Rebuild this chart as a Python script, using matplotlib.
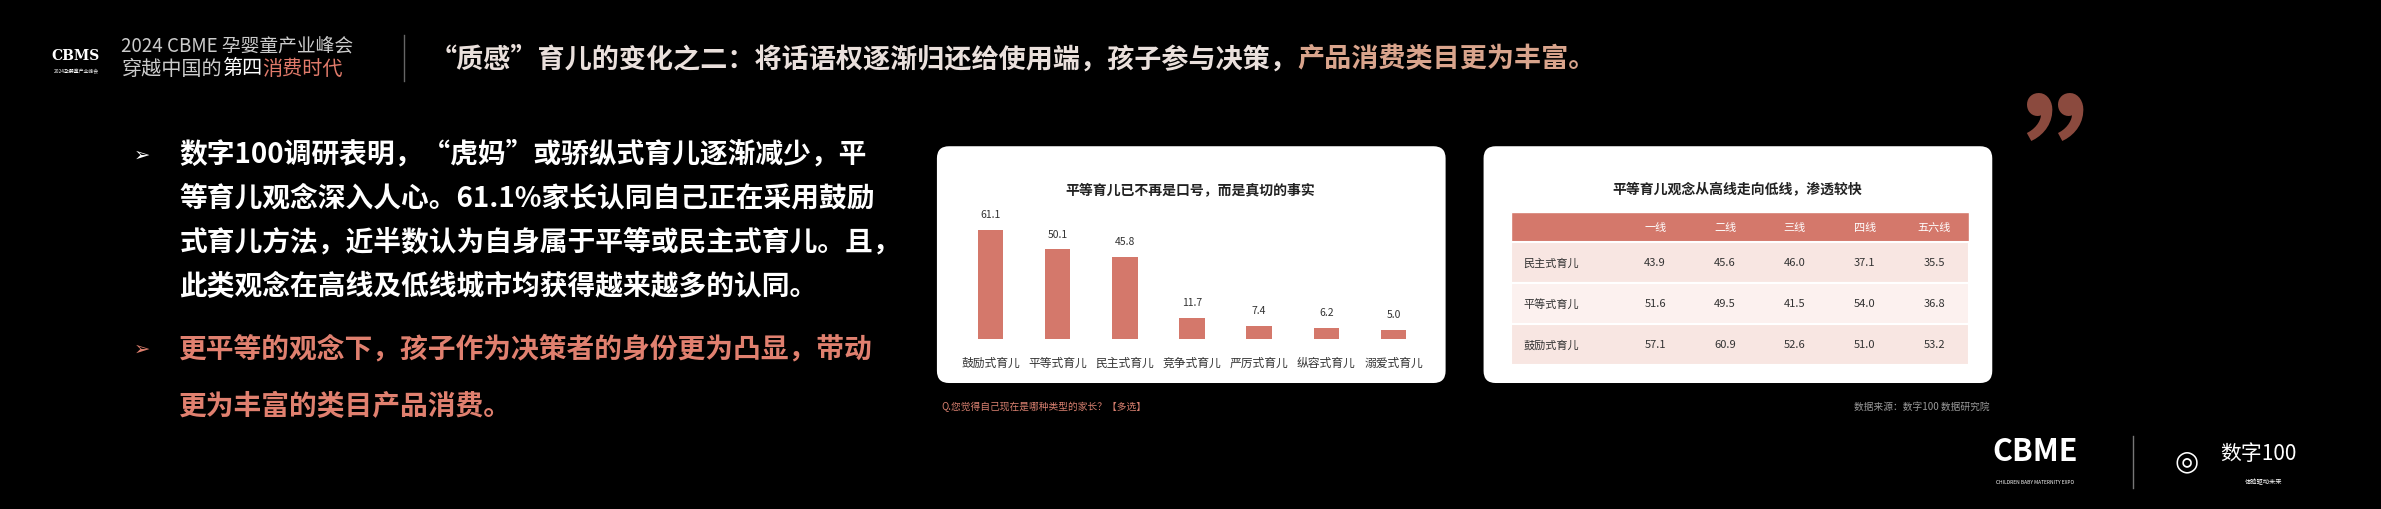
import matplotlib
matplotlib.use('Agg')
import matplotlib.pyplot as plt
from matplotlib.patches import FancyBboxPatch, Rectangle

plt.rcParams['font.family'] = ['Noto Sans CJK SC', 'DejaVu Sans']

# ── Data ──────────────────────────────────────────────
bar_cats = ['鼓励式育儿', '平等式育儿', '民主式育儿', '竞争式育儿', '严厉式育儿', '纵容式育儿', '溺爱式育儿']
bar_vals = [61.1, 50.1, 45.8, 11.7, 7.4, 6.2, 5.0]

tbl_cols = ['一线', '二线', '三线', '四线', '五六线']
tbl_rows = ['民主式育儿', '平等式育儿', '鼓励式育儿']
tbl_vals = [[43.9, 45.6, 46.0, 37.1, 35.5],
            [51.6, 49.5, 41.5, 54.0, 36.8],
            [57.1, 60.9, 52.6, 51.0, 53.2]]

bullets_white = ['数字100调研表明，“虎妈”或骄纵式育儿逐渐减少，平',
                 '等育儿观念深入人心。61.1%家长认同自己正在采用鼓励',
                 '式育儿方法，近半数认为自身属于平等或民主式育儿。且，',
                 '此类观念在高线及低线城市均获得越来越多的认同。']
bullets_red = ['更平等的观念下，孩子作为决策者的身份更为凸显，带动',
               '更为丰富的类目产品消费。']

BAR = '#d4786b'
RED = '#e0806f'
W, H = 1568, 336  # layout units


def fr(x, y):
    return x / W, 1 - y / H


fig = plt.figure(figsize=(23.81, 5.10), dpi=100, facecolor='black')
bg = fig.add_axes([0, 0, 1, 1])
bg.set_xlim(0, W)
bg.set_ylim(H, 0)
bg.axis('off')
bg.set_facecolor('black')
renderer = fig.canvas.get_renderer()


def chain(x, y, parts, **kw):
    # place text pieces one after another on a line
    for txt, col in parts:
        t = bg.text(x, y, txt, color=col, va='center', **kw)
        ext = t.get_window_extent(renderer)
        x += ext.width * W / fig.bbox.width


# ── Header ───────────────────────────────────────────
bg.text(50, 37, 'CBMS', color='white', fontsize=10, fontweight='bold', ha='center', va='center',
        family='DejaVu Serif')
bg.text(50, 47, '2024孕婴童产业峰会', color='white', fontsize=3.5, ha='center', va='center')
chain(80, 30, [('2024 CBME 孕婴童产业峰会', '#cccccc')], fontsize=13.5, fontweight='light')
chain(80, 46, [('穿越中国的', '#cccccc'), ('第四', 'white'), ('消费时代', '#e07a6a')],
      fontsize=14.5, fontweight='light')
bg.plot([266, 266], [24, 54], color='#666666', lw=1)
chain(283, 39, [('“质感”育儿的变化之二：将话语权逐渐归还给使用端，孩子参与决策，', '#eae0dc'),
                ('产品消费类目更为丰富。', '#d9a48c')], fontsize=19.5, fontweight='bold')

# ── Bullets ──────────────────────────────────────────
for i, t in enumerate(bullets_white):
    y = 102 + 29 * i
    if i == 0:
        bg.text(88, y, '➢', color='white', fontsize=14, va='center', family='DejaVu Sans')
    bg.text(118, y, t, color='white', fontsize=20, fontweight='bold', va='center')
for i, t in enumerate(bullets_red):
    y = 230 + 38 * i
    if i == 0:
        bg.text(88, y, '➢', color=RED, fontsize=14, va='center', family='DejaVu Sans')
    bg.text(118, y, t, color=RED, fontsize=20, fontweight='bold', va='center')

# ── Cards ────────────────────────────────────────────
for x0 in (617, 977):
    bg.add_patch(FancyBboxPatch((x0, 97), 335, 156, boxstyle='round,pad=0,rounding_size=8',
                                fc='white', ec='none'))

# Bar chart
bg.text(784, 125, '平等育儿已不再是口号，而是真切的事实', fontsize=10, fontweight='bold',
        ha='center', va='center', color='#222222')
x0, y0 = fr(628, 224)
x1, y1 = fr(942, 152)
ax = fig.add_axes([x0, y0, x1 - x0, y1 - y0])
xs = range(len(bar_cats))
ax.bar(xs, bar_vals, width=0.38, color=BAR)
for x, v in zip(xs, bar_vals):
    ax.text(x, v + 6, f'{v:.1f}', ha='center', va='bottom', fontsize=7.5, color='#333333')
ax.set_ylim(0, 61.1)
ax.set_xlim(-0.55, len(bar_cats) - 0.45)
ax.set_xticks(list(xs))
ax.set_xticklabels(bar_cats, fontsize=8.5, color='#333333')
ax.tick_params(length=0, pad=12)
ax.set_yticks([])
for s in ax.spines.values():
    s.set_visible(False)
ax.patch.set_alpha(0)

# Table
bg.text(1144, 125, '平等育儿观念从高线走向低线，渗透较快', fontsize=10, fontweight='bold',
        ha='center', va='center', color='#222222')
tx, ty, cw0, cw, rh = 995, 140, 72, 46, 27
bg.add_patch(Rectangle((tx, ty), cw0 + cw * 5, 20, fc=BAR, ec='white', lw=1))
for j, c in enumerate(tbl_cols):
    bg.text(tx + cw0 + cw * j + cw / 2, ty + 10, c, color='white', fontsize=8, ha='center', va='center')
for i, r in enumerate(tbl_rows):
    yy = ty + 20 + rh * i
    bg.add_patch(Rectangle((tx, yy), cw0 + cw * 5, rh, fc='#f8e6e2' if i % 2 == 0 else '#fcf1ef',
                           ec='white', lw=1.5))
    bg.text(tx + 8, yy + rh / 2, r, fontsize=8, va='center', color='#333333')
    for j, v in enumerate(tbl_vals[i]):
        bg.text(tx + cw0 + cw * j + cw / 2, yy + rh / 2, f'{v:.1f}', fontsize=8,
                ha='center', va='center', color='#333333')

# Footnotes
bg.text(620, 268, 'Q.您觉得自己现在是哪种类型的家长？【多选】', color='#d98070', fontsize=7, va='center')
bg.text(1310, 268, '数据来源：数字100 数据研究院', color='#999999', fontsize=7, va='center', ha='right')

# Quote mark
bg.text(1382, 118, '”', color='#8b4a3e', fontsize=110, fontweight='bold', ha='center', va='center')

# Bottom logos
bg.text(1340, 298, 'CBME', color='white', fontsize=22, fontweight='bold', ha='center', va='center')
bg.text(1340, 318, 'CHILDREN BABY MATERNITY EXPO', color='white', fontsize=3.5, ha='center', va='center')
bg.plot([1405, 1405], [288, 322], color='#777777', lw=1)
bg.text(1440, 304, '◎', color='white', fontsize=20, ha='center', va='center', family='DejaVu Sans')
bg.text(1462, 299, '数字100', color='white', fontsize=15, va='center')
bg.text(1478, 318, '体验驱动未来', color='white', fontsize=4.5, va='center')

fig.savefig('out.png', dpi=100, facecolor='black')
